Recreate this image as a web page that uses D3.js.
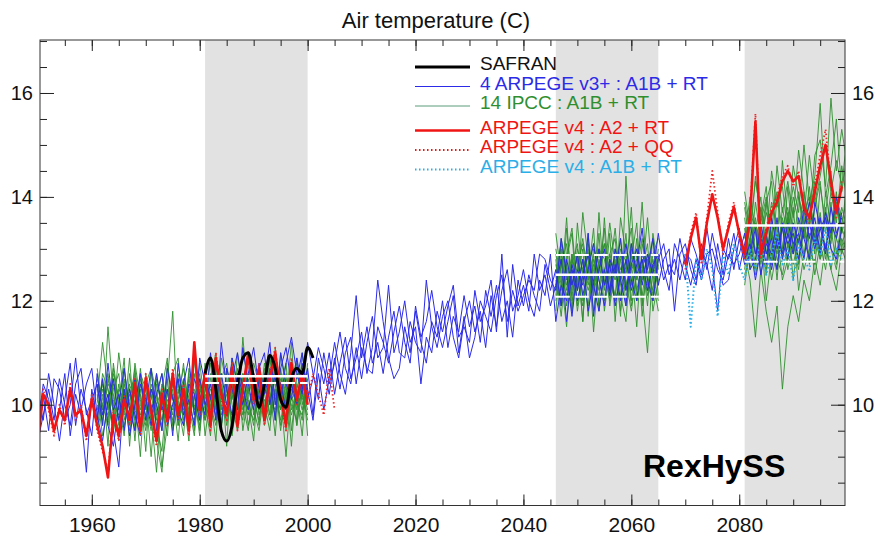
<!DOCTYPE html>
<html>
<head>
<meta charset="utf-8">
<script src="https://cdn.jsdelivr.net/npm/d3@7"></script>
<style>
body { margin: 0; background: #fff; }
svg { display: block; font-family: "Liberation Sans", Arial, sans-serif; }
</style>
</head>
<body>
<svg id="chart" width="876" height="536"></svg>
<script>
'use strict';

// ---- data (deg C, annual values) ----
var safranStart = 1981;
var safran = [10.6, 10.9, 10.3, 9.5, 9.3, 9.6, 10.4, 10.9, 11.0, 10.5,
  9.95, 10.4, 10.95, 10.7, 10.1, 9.95, 10.5, 10.7, 10.6, 11.1, 10.9];

var arpegeStart = 1950;
var arpegeV3 = [
  [9.6, 10.4, 10.1, 9.5, 9.9, 10.6, 9.4, 10.2, 9.8, 8.7,
   10.3, 9.7, 10.5, 9.6, 9.2, 10.0, 10.7, 9.9, 9.5, 10.4,
   10.1, 9.6, 10.6, 9.9, 10.3, 9.4, 10.8, 10.0, 9.7, 10.5,
   10.2, 9.8, 11.0, 10.1, 9.6, 10.7, 10.3, 9.9, 11.1, 10.4,
   9.9, 10.8, 10.2, 10.6, 9.7, 11.0, 10.4, 10.1, 10.9, 10.3,
   10.7, 9.8, 10.9, 10.4, 11.0, 10.2, 10.8, 11.3, 10.5, 10.9,
   11.4, 10.6, 11.1, 12.4, 11.6, 10.9, 10.5, 10.7, 11.5, 11.0,
   11.8, 11.2, 10.8, 11.6, 11.3, 12.0, 11.1, 11.7, 11.4, 12.1,
   11.5, 11.9, 11.2, 12.2, 11.7, 12.3, 11.6, 12.0, 11.3, 12.4,
   11.9, 12.5, 12.1, 11.8, 12.7, 12.2, 12.6, 11.9, 12.8, 12.3,
   12.9, 12.1, 12.6, 13.1, 12.4, 11.9, 12.8, 12.5, 13.2, 12.2,
   12.7, 13.0, 12.3, 12.9, 12.5, 13.3, 12.6, 12.2, 13.1, 12.8,
   12.4, 13.2, 12.9, 12.5, 13.4, 12.7, 11.8, 13.0, 12.8, 13.3,
   12.6, 13.1, 13.5, 12.9, 13.3, 12.7, 13.6, 13.0, 13.4, 12.8,
   13.5, 13.1, 13.8, 13.2, 13.6, 12.9, 13.7, 13.3, 14.0, 13.4],
  [10.2, 9.7, 10.6, 10.0, 9.3, 10.1, 10.8, 9.6, 10.3, 9.9,
   9.4, 10.6, 9.8, 10.2, 9.5, 8.8, 10.3, 9.7, 10.5, 9.6,
   10.0, 10.7, 9.5, 10.2, 9.8, 10.6, 9.7, 10.4, 10.9, 9.8,
   10.5, 10.0, 10.4, 9.7, 11.2, 10.3, 9.8, 10.6, 10.2, 11.0,
   10.6, 10.1, 10.5, 11.2, 10.0, 10.7, 11.1, 10.4, 10.0, 10.8,
   10.3, 9.7, 10.6, 9.9, 10.5, 11.2, 10.6, 10.2, 11.0, 12.1,
   10.9, 11.5, 10.8, 11.2, 10.6, 11.3, 11.8, 11.0, 10.9, 11.6,
   11.2, 11.0, 12.4, 11.5, 11.1, 11.7, 12.0, 11.3, 10.9, 11.6,
   12.0, 11.4, 11.8, 11.1, 12.1, 11.5, 12.2, 12.6, 11.8, 12.1,
   12.6, 12.0, 11.7, 12.4, 12.1, 12.9, 11.6, 12.3, 12.0, 12.7,
   12.2, 12.8, 11.8, 12.4, 13.0, 12.3, 12.7, 11.9, 12.5, 13.1,
   12.4, 12.0, 12.9, 12.6, 13.2, 12.3, 12.8, 13.0, 11.8, 12.9,
   13.1, 12.6, 12.3, 13.0, 12.7, 12.2, 13.1, 12.5, 13.2, 12.6,
   13.2, 12.7, 12.9, 13.4, 12.5, 13.1, 12.9, 13.6, 12.8, 13.3,
   12.9, 13.6, 13.2, 12.8, 13.9, 13.4, 13.0, 13.5, 13.2, 13.7],
  [9.9, 10.2, 9.5, 10.5, 10.3, 9.7, 10.0, 10.9, 9.9, 10.4,
   10.7, 9.8, 9.3, 10.1, 10.5, 9.7, 10.2, 9.4, 10.0, 10.6,
   9.7, 10.3, 10.0, 9.5, 10.7, 10.1, 9.9, 9.6, 10.4, 10.2,
   9.7, 10.6, 10.1, 10.8, 10.2, 9.9, 10.9, 10.4, 10.0, 10.6,
   11.1, 10.3, 9.8, 10.7, 10.5, 10.1, 10.8, 11.3, 10.6, 10.2,
   11.2, 10.6, 10.1, 11.0, 10.4, 10.8, 11.4, 10.7, 10.4, 11.1,
   10.5, 11.2, 11.7, 10.9, 11.1, 12.3, 11.0, 11.4, 12.0, 11.2,
   11.5, 10.4, 11.3, 11.0, 11.8, 11.4, 11.9, 12.3, 11.3, 11.5,
   11.2, 12.2, 11.6, 11.9, 12.4, 11.4, 12.9, 11.3, 12.7, 11.9,
   12.3, 11.8, 12.9, 12.2, 12.5, 11.9, 12.3, 12.8, 11.6, 12.6,
   12.0, 12.5, 12.9, 12.3, 11.8, 12.6, 12.2, 13.0, 12.4, 11.9,
   13.1, 12.5, 12.8, 12.2, 12.7, 12.9, 12.4, 12.7, 12.5, 13.2,
   12.7, 12.3, 12.8, 12.4, 12.9, 13.0, 12.6, 12.4, 12.9, 12.7,
   12.9, 13.3, 12.6, 12.8, 13.5, 12.9, 13.2, 12.6, 13.5, 13.1,
   13.3, 12.8, 13.4, 13.9, 13.1, 13.6, 12.9, 13.8, 13.3, 13.6],
  [9.3, 9.8, 10.3, 9.7, 10.5, 10.0, 9.6, 10.4, 10.7, 9.8,
   10.1, 10.4, 9.6, 10.8, 9.9, 10.2, 9.5, 10.3, 9.8, 9.4,
   10.5, 9.9, 10.2, 10.6, 9.6, 10.0, 10.5, 9.8, 10.1, 9.6,
   10.9, 10.4, 9.8, 10.3, 10.6, 10.0, 10.5, 11.0, 10.3, 9.9,
   10.4, 10.7, 11.0, 10.0, 10.6, 10.4, 9.9, 10.7, 10.5, 11.0,
   10.1, 10.5, 11.1, 10.7, 10.2, 10.9, 10.3, 11.0, 11.3, 10.4,
   11.1, 10.7, 10.6, 11.5, 11.2, 10.8, 11.4, 11.9, 11.2, 10.8,
   11.9, 11.3, 11.6, 12.2, 11.5, 11.1, 11.6, 12.1, 11.0, 11.7,
   10.9, 11.3, 12.0, 11.7, 11.4, 12.1, 12.5, 11.6, 12.2, 11.8,
   12.1, 12.4, 12.2, 12.9, 12.8, 12.4, 12.2, 13.2, 12.5, 11.7,
   12.6, 12.3, 13.3, 11.7, 12.6, 13.0, 12.1, 12.7, 12.0, 12.8,
   12.2, 12.7, 13.4, 12.4, 12.0, 12.8, 13.1, 12.5, 12.8, 12.4,
   12.9, 12.8, 12.4, 13.1, 12.6, 13.3, 12.8, 12.3, 12.4, 13.0,
   13.4, 12.8, 13.1, 12.4, 13.0, 13.3, 12.6, 13.2, 12.9, 13.5,
   13.1, 13.3, 12.8, 13.5, 13.0, 13.4, 13.6, 13.0, 12.8, 13.4]
];

// 14 IPCC models, three windows
var ipccStarts = [1961, 2046, 2081];
var ipccPast = [
  [10.4, 9.6, 11.5, 10.1, 9.3, 10.7, 9.9, 10.2, 9.0, 10.6, 9.8, 8.7, 10.3, 10.9, 9.5, 10.0, 10.8, 9.7, 10.2, 9.4, 10.6, 10.1, 9.3, 10.9, 10.4, 9.6, 11.0, 10.2, 9.8, 10.5, 9.9, 10.8, 10.3, 9.4, 10.7, 10.0, 11.2, 9.6, 10.4, 10.1],
  [9.8, 10.5, 9.2, 10.8, 10.0, 9.4, 10.6, 9.9, 10.3, 9.1, 10.7, 10.2, 9.5, 10.4, 11.8, 9.6, 10.1, 9.3, 10.9, 10.2, 9.7, 10.5, 11.0, 9.6, 10.3, 10.8, 9.5, 10.6, 10.0, 9.3, 10.7, 10.2, 9.8, 11.1, 9.9, 10.4, 9.2, 10.6, 10.3, 9.9],
  [10.1, 11.2, 10.3, 9.5, 10.0, 10.9, 9.2, 10.5, 9.7, 10.2, 9.0, 10.4, 10.1, 9.4, 10.6, 10.9, 9.8, 10.3, 9.5, 10.8, 10.0, 9.4, 10.7, 10.2, 9.9, 10.4, 9.7, 11.3, 10.1, 9.6, 10.5, 9.8, 10.9, 10.4, 9.5, 10.3, 10.0, 9.7, 11.0, 10.2],
  [9.5, 10.0, 10.6, 9.8, 11.0, 10.2, 9.7, 10.8, 10.1, 9.5, 10.3, 9.9, 8.8, 9.6, 10.5, 10.0, 9.4, 10.7, 10.2, 9.9, 10.4, 9.6, 10.1, 10.6, 9.2, 10.9, 10.3, 9.8, 10.5, 10.1, 9.7, 10.4, 10.9, 10.0, 10.3, 9.5, 10.6, 10.1, 9.7, 10.8],
  [10.7, 9.9, 10.2, 9.6, 10.4, 9.8, 10.9, 9.5, 10.6, 10.3, 9.7, 10.1, 10.6, 9.9, 10.2, 9.3, 10.5, 9.8, 10.1, 10.6, 9.4, 10.2, 9.8, 10.5, 10.8, 10.0, 9.5, 10.4, 10.9, 9.8, 10.3, 9.6, 10.1, 10.6, 10.2, 9.0, 10.4, 10.9, 10.0, 10.5],
  [9.9, 10.3, 9.7, 10.5, 9.6, 10.0, 10.4, 9.3, 10.7, 9.9, 10.2, 9.6, 9.1, 10.3, 9.8, 10.6, 10.1, 9.5, 10.9, 9.7, 10.3, 10.8, 9.9, 9.6, 10.4, 10.1, 10.7, 9.5, 10.2, 10.8, 10.4, 9.9, 10.5, 9.7, 11.0, 10.3, 9.8, 10.2, 9.4, 10.7],
  [10.2, 9.4, 10.0, 10.7, 9.9, 10.3, 9.6, 10.1, 10.5, 9.7, 10.0, 9.3, 8.7, 10.1, 9.9, 10.4, 9.7, 10.6, 9.9, 10.3, 10.0, 9.7, 10.5, 9.9, 10.6, 9.4, 10.2, 10.5, 9.6, 10.1, 10.6, 10.0, 9.5, 10.8, 10.1, 10.6, 9.9, 10.3, 10.7, 9.4],
  [10.5, 10.1, 9.8, 10.3, 10.6, 9.7, 10.2, 9.9, 9.6, 10.4, 10.7, 9.8, 10.0, 10.5, 9.6, 10.2, 10.7, 10.0, 9.4, 10.5, 10.1, 10.6, 9.7, 10.3, 9.8, 10.5, 10.0, 9.7, 10.9, 10.3, 9.6, 10.7, 10.1, 9.9, 10.4, 10.8, 9.5, 10.4, 10.1, 10.3],
  [9.7, 10.6, 10.3, 9.9, 9.5, 10.4, 10.0, 10.7, 9.8, 10.0, 9.5, 10.5, 9.9, 9.7, 10.3, 9.6, 10.2, 10.0, 10.6, 9.5, 10.8, 9.9, 10.4, 10.0, 9.7, 10.3, 10.6, 10.0, 9.5, 10.4, 10.0, 10.5, 9.8, 10.3, 9.7, 10.2, 10.7, 9.9, 10.5, 10.6],
  [10.0, 9.8, 10.4, 10.2, 9.7, 10.5, 9.5, 10.0, 10.2, 9.6, 10.4, 10.0, 9.6, 10.8, 10.1, 9.8, 10.3, 9.9, 9.7, 10.4, 9.9, 10.3, 10.1, 9.5, 10.7, 10.2, 9.8, 10.6, 10.3, 9.9, 9.5, 10.3, 10.6, 10.2, 9.9, 10.5, 10.2, 9.6, 10.4, 10.0],
  [10.3, 10.0, 9.6, 10.4, 10.2, 9.9, 10.3, 10.5, 9.6, 10.1, 9.9, 10.2, 9.7, 10.2, 10.5, 9.7, 10.0, 10.4, 9.8, 10.1, 10.5, 9.8, 10.2, 10.4, 9.6, 10.2, 10.4, 9.9, 10.3, 10.6, 9.8, 10.3, 10.0, 10.5, 9.6, 10.1, 10.5, 10.0, 9.8, 10.4],
  [9.6, 10.2, 10.0, 9.5, 10.3, 10.1, 9.8, 10.6, 10.0, 9.8, 10.3, 9.7, 10.4, 9.9, 10.0, 10.5, 9.6, 10.2, 10.3, 9.8, 10.2, 10.0, 9.6, 10.2, 10.0, 10.6, 9.7, 10.3, 10.0, 9.7, 10.3, 10.6, 10.2, 9.8, 10.3, 9.9, 10.4, 10.8, 10.2, 9.7],
  [10.1, 9.7, 10.5, 10.0, 9.8, 10.2, 10.3, 9.7, 10.4, 9.9, 10.1, 10.6, 9.9, 10.0, 9.7, 10.3, 9.9, 10.5, 10.0, 9.6, 10.3, 10.4, 9.9, 10.1, 10.3, 9.7, 10.5, 10.1, 9.9, 10.4, 10.2, 9.7, 10.4, 10.1, 10.6, 9.7, 10.1, 10.3, 9.9, 10.5],
  [9.9, 10.4, 9.9, 10.6, 10.1, 9.6, 10.1, 10.3, 9.9, 10.5, 9.6, 10.0, 10.3, 9.8, 10.4, 10.1, 10.5, 9.7, 10.2, 10.4, 9.7, 10.1, 10.6, 9.8, 10.2, 10.3, 9.9, 10.0, 10.6, 10.2, 9.9, 10.1, 9.7, 10.2, 10.5, 9.9, 10.3, 10.0, 10.2, 9.8]
];
var ipccMid = [
  [12.8, 11.9, 13.4, 12.3, 12.9, 11.6, 13.1, 12.5, 12.0, 13.6, 12.2, 12.8, 11.7, 14.4, 12.6, 13.0, 12.1, 11.0, 12.7, 12.3],
  [12.1, 13.2, 12.6, 11.8, 13.5, 12.4, 11.9, 13.0, 12.7, 12.2, 13.3, 11.6, 12.9, 12.5, 13.8, 12.0, 12.6, 13.1, 11.8, 12.4],
  [13.0, 12.4, 11.5, 12.9, 12.2, 13.7, 12.8, 12.1, 13.3, 11.8, 12.6, 13.4, 12.3, 12.0, 12.8, 13.5, 11.9, 12.7, 13.2, 12.1],
  [12.5, 11.7, 12.8, 13.3, 11.9, 12.6, 13.0, 11.4, 12.7, 13.1, 12.4, 12.0, 13.6, 12.9, 11.9, 12.5, 13.9, 12.3, 12.0, 12.8],
  [11.8, 12.9, 12.2, 12.7, 13.1, 12.0, 12.5, 13.4, 11.8, 12.6, 12.9, 13.2, 12.1, 11.6, 13.0, 12.4, 12.8, 11.9, 13.3, 12.6],
  [12.9, 12.3, 13.6, 12.0, 12.4, 13.0, 11.7, 12.8, 12.5, 13.4, 11.9, 12.6, 13.0, 12.3, 12.7, 11.5, 13.1, 12.6, 12.2, 13.0],
  [12.3, 13.0, 11.9, 12.5, 12.8, 11.6, 13.3, 12.1, 13.7, 12.3, 12.8, 12.0, 12.4, 13.3, 12.0, 12.9, 12.5, 13.6, 12.4, 11.8],
  [12.6, 12.0, 12.9, 13.4, 12.2, 12.8, 12.3, 12.9, 11.9, 12.5, 13.5, 12.7, 11.8, 12.6, 13.1, 12.2, 12.7, 12.1, 12.9, 13.2],
  [12.0, 12.7, 13.1, 11.8, 12.6, 13.2, 12.5, 11.8, 12.8, 12.4, 12.1, 13.0, 12.6, 12.9, 12.3, 13.2, 11.7, 12.8, 12.5, 12.0],
  [13.3, 12.5, 12.1, 12.8, 12.4, 11.9, 12.7, 13.1, 12.4, 12.0, 12.9, 12.5, 13.2, 11.9, 12.6, 12.8, 12.4, 12.9, 12.1, 12.7],
  [12.4, 11.9, 12.7, 12.2, 13.0, 12.6, 12.2, 12.6, 13.0, 12.8, 12.2, 12.9, 12.4, 12.8, 13.4, 12.0, 12.6, 12.3, 12.8, 12.4],
  [12.2, 12.8, 12.3, 12.9, 11.8, 12.5, 12.9, 12.3, 12.6, 13.1, 12.5, 12.1, 12.8, 12.4, 11.8, 12.6, 13.2, 12.5, 12.0, 12.9],
  [12.7, 12.2, 12.6, 12.1, 12.7, 13.1, 12.4, 12.7, 12.2, 12.6, 12.0, 12.7, 12.5, 12.2, 12.9, 12.5, 12.1, 12.8, 12.6, 12.3],
  [12.5, 13.1, 12.4, 12.6, 12.3, 12.8, 12.6, 12.2, 13.0, 12.3, 12.7, 12.4, 12.9, 12.6, 12.3, 12.7, 12.5, 12.2, 12.7, 12.5]
];
var ipccEnd = [
  [13.8, 13.1, 14.4, 13.5, 14.0, 13.2, 14.6, 13.7, 14.3, 13.6, 14.9, 14.1, 13.5, 14.8, 15.1, 14.2, 15.9, 14.5, 15.3, 14.6],
  [13.2, 14.0, 13.4, 12.8, 13.9, 14.3, 13.1, 14.7, 13.5, 14.2, 13.7, 15.0, 13.9, 14.4, 15.8, 14.0, 14.6, 15.5, 14.1, 14.8],
  [12.9, 12.4, 11.3, 12.6, 11.8, 11.2, 11.9, 10.3, 11.5, 12.1, 11.6, 12.4, 12.0, 12.8, 12.3, 13.1, 12.6, 12.2, 13.0, 12.7],
  [13.6, 12.8, 13.9, 13.2, 12.5, 13.6, 14.1, 13.0, 13.7, 12.9, 14.0, 13.4, 12.8, 13.8, 14.3, 13.3, 14.1, 13.5, 14.6, 13.9],
  [12.6, 13.5, 12.9, 13.8, 13.3, 12.7, 13.5, 12.9, 14.2, 13.1, 12.6, 13.7, 14.0, 13.2, 12.8, 14.1, 13.4, 13.9, 13.3, 14.4],
  [13.9, 13.3, 12.7, 13.6, 14.2, 13.0, 12.6, 13.8, 13.2, 14.0, 13.5, 12.9, 13.6, 14.3, 13.1, 13.7, 14.5, 13.2, 13.8, 13.4],
  [12.8, 13.7, 13.4, 12.5, 13.2, 13.9, 13.4, 12.8, 13.6, 12.4, 13.3, 14.1, 13.0, 12.7, 13.6, 13.0, 13.9, 12.9, 13.5, 14.0],
  [13.4, 12.6, 13.3, 14.0, 12.9, 13.5, 12.4, 13.6, 13.0, 13.8, 12.7, 13.4, 14.2, 13.1, 13.7, 12.8, 13.3, 14.1, 13.0, 13.6],
  [12.3, 13.1, 12.6, 13.4, 12.0, 12.9, 13.3, 12.4, 12.8, 13.5, 12.2, 12.9, 13.3, 12.5, 13.1, 12.6, 13.4, 12.7, 13.2, 12.9],
  [14.1, 13.4, 14.3, 13.7, 13.1, 14.5, 13.8, 14.2, 13.3, 14.6, 14.0, 13.6, 14.8, 13.9, 14.4, 15.0, 14.1, 14.7, 14.2, 15.2],
  [13.0, 13.8, 12.9, 13.3, 13.9, 12.7, 14.0, 13.4, 12.8, 13.6, 14.1, 13.2, 13.7, 12.9, 14.2, 13.5, 13.1, 14.0, 13.6, 13.3],
  [12.5, 12.9, 13.6, 12.7, 13.2, 12.4, 13.0, 13.5, 12.6, 13.1, 12.8, 13.6, 12.7, 13.3, 12.9, 13.8, 13.0, 12.6, 13.4, 13.1],
  [13.3, 12.9, 13.5, 13.1, 13.7, 13.3, 12.9, 13.4, 13.8, 13.0, 13.5, 13.2, 13.9, 13.4, 13.0, 13.6, 13.2, 13.8, 13.3, 13.7],
  [12.7, 13.2, 12.5, 13.0, 12.6, 13.3, 12.8, 12.5, 13.1, 12.7, 13.2, 12.6, 13.0, 13.4, 12.8, 13.1, 12.6, 13.2, 12.9, 13.3]
];

// ARPEGE v4 runs
var v4PastStart = 1950, v4EndStart = 2070;
var a2rtPast = [9.3, 10.2, 10.0, 9.5, 9.9, 9.7, 10.3, 9.8, 9.9, 9.4,
  10.1, 9.6, 9.2, 8.6, 9.8, 9.4, 10.1, 9.7, 10.4, 9.5,
  10.5, 9.9, 9.3, 10.2, 9.7, 10.6, 9.8, 10.3, 9.5, 11.2,
  9.9, 10.6, 9.6, 10.9, 10.2, 9.8, 10.7, 9.6, 10.3, 11.0,
  10.1, 10.7, 9.7, 10.5, 11.0, 10.2, 9.6, 10.8, 10.1, 10.6, 10.0];
var a2rtEnd = [12.7, 13.2, 13.6, 12.8, 13.5, 14.05, 13.6, 13.0, 13.4, 13.8,
  13.3, 12.9, 13.6, 15.45, 12.9, 13.3, 13.7, 13.9, 14.3, 14.5,
  14.3, 14.4, 13.8, 13.6, 14.1, 14.6, 15.0, 14.3, 13.7, 14.2];
var a2qqPast = [9.2, 10.3, 9.9, 9.4, 10.0, 9.6, 10.4, 9.7, 10.0, 9.3,
  10.2, 9.5, 9.1, 8.7, 9.9, 9.3, 10.2, 9.6, 10.5, 9.4,
  10.6, 9.8, 9.2, 10.3, 9.6, 10.7, 9.7, 10.4, 9.4, 11.1,
  9.8, 10.7, 9.5, 11.0, 10.1, 9.7, 10.8, 9.5, 10.4, 10.9,
  10.0, 10.8, 9.6, 10.6, 11.1, 10.1, 9.5, 10.9, 10.0, 10.7,
  10.1, 10.6, 10.2, 9.8, 10.7, 9.9];
var a2qqEnd = [12.6, 13.3, 13.7, 12.7, 13.6, 14.5, 13.7, 12.9, 13.5, 13.9,
  13.2, 12.8, 13.7, 15.6, 12.8, 13.4, 13.8, 14.0, 14.4, 14.6,
  14.2, 14.5, 13.7, 13.5, 14.2, 14.8, 15.3, 14.2, 13.6, 14.3];
var a1bEnd = [12.9, 11.5, 12.8, 12.4, 13.0, 12.6, 11.7, 12.9, 12.5, 13.1,
  12.7, 12.4, 13.0, 12.6, 13.2, 12.5, 12.9, 13.3, 12.7, 13.0,
  12.4, 13.1, 12.8, 12.6, 13.2, 12.9, 13.4, 12.7, 13.0, 12.8];

// 20-year windows and their means
var periodStarts = [1981, 2046, 2081];
var periodEnds = [2000, 2065, 2100];
var periodMeans = [10.55, 12.5, 13.45];
var periodSpread = [[10.42], [12.88, 12.08], [12.75]];

var legendLabels = ['SAFRAN', '4 ARPEGE v3+ : A1B + RT', '14 IPCC : A1B + RT',
  'ARPEGE v4 : A2 + RT', 'ARPEGE v4 : A2 + QQ', 'ARPEGE v4 : A1B + RT'];

var xMajor = [1960, 1980, 2000, 2020, 2040, 2060, 2080];
var yMajor = [10, 12, 14, 16];

// ---- drawing ----
var svg = d3.select('#chart');
var pLeft = 40, pRight = 845, pTop = 40, pBottom = 505.5;

var x = d3.scaleLinear().domain([1950.4, 2099.6]).range([pLeft, pRight]);
var y = d3.scaleLinear().domain([8.06, 17.02]).range([pBottom, pTop]);

var col = {black: '#000', blue: '#2b2be8', green: '#2f8f2f', red: '#f01414',
  qq: '#f02828', cyan: '#2aaee8'};

svg.append('defs').append('clipPath').attr('id', 'plot')
  .append('rect').attr('x', pLeft).attr('y', pTop)
  .attr('width', pRight - pLeft).attr('height', pBottom - pTop);

// grey windows
svg.append('g').selectAll('rect').data(periodStarts).join('rect')
  .attr('x', function (d) { return x(d); })
  .attr('y', pTop)
  .attr('width', function (d, i) { return Math.min(x(periodEnds[i]), pRight) - x(d); })
  .attr('height', pBottom - pTop)
  .attr('fill', '#e2e2e2');

function pts(start, vals) {
  return vals.map(function (v, i) { return [start + i, v]; });
}
var line = d3.line().x(function (d) { return x(d[0]); }).y(function (d) { return y(d[1]); });
var smooth = d3.line().curve(d3.curveMonotoneX)
  .x(function (d) { return x(d[0]); }).y(function (d) { return y(d[1]); });

var plot = svg.append('g').attr('clip-path', 'url(#plot)');

function draw(data, color, width, dash, gen) {
  plot.append('path').datum(data)
    .attr('d', gen || line)
    .attr('fill', 'none')
    .attr('stroke', color)
    .attr('stroke-width', width)
    .attr('stroke-dasharray', dash || null)
    .attr('stroke-linejoin', 'round');
}

[ipccPast, ipccMid, ipccEnd].forEach(function (set, k) {
  set.forEach(function (vals) { draw(pts(ipccStarts[k], vals), col.green, 0.9); });
});
arpegeV3.forEach(function (vals) { draw(pts(arpegeStart, vals), col.blue, 1); });

draw(pts(v4EndStart, a1bEnd), col.cyan, 2, '1.5,2.5');
draw(pts(v4PastStart, a2qqPast), col.qq, 1.8, '1.5,2.5');
draw(pts(v4EndStart, a2qqEnd), col.qq, 1.8, '1.5,2.5');
draw(pts(v4PastStart, a2rtPast), col.red, 2.6);
draw(pts(v4EndStart, a2rtEnd), col.red, 2.6);
draw(pts(safranStart, safran), col.black, 3, null, smooth);

// window means
periodStarts.forEach(function (s, i) {
  var e = periodEnds[i];
  periodSpread[i].forEach(function (v) {
    plot.append('line').attr('x1', x(s)).attr('x2', x(e))
      .attr('y1', y(v)).attr('y2', y(v))
      .attr('stroke', '#fff').attr('stroke-width', 2).attr('stroke-dasharray', '14,5');
  });
  plot.append('line').attr('x1', x(s)).attr('x2', x(e))
    .attr('y1', y(periodMeans[i])).attr('y2', y(periodMeans[i]))
    .attr('stroke', '#fff').attr('stroke-width', 2.5);
});

// axes (ticks pointing inward)
function styleAxis(size) {
  return function (g) {
    g.select('.domain').remove();
    g.selectAll('line').attr('stroke', '#222');
    g.selectAll('text').attr('fill', '#111').style('font-size', size + 'px')
      .style('font-family', '"Liberation Sans", Arial, sans-serif');
  };
}
var xMinor = d3.range(1955, 2100, 5);
var yMinor = d3.range(8.5, 17.01, 0.5);

svg.append('g').attr('transform', 'translate(0,' + pBottom + ')')
  .call(d3.axisBottom(x).tickValues(xMinor).tickSize(-6).tickFormat('')).call(styleAxis(21));
svg.append('g').attr('transform', 'translate(0,' + pBottom + ')')
  .call(d3.axisBottom(x).tickValues(xMajor).tickSize(-11).tickPadding(12).tickFormat(d3.format('d')))
  .call(styleAxis(21));
svg.append('g').attr('transform', 'translate(0,' + pTop + ')')
  .call(d3.axisTop(x).tickValues(xMinor).tickSize(-6).tickFormat('')).call(styleAxis(21));
svg.append('g').attr('transform', 'translate(0,' + pTop + ')')
  .call(d3.axisTop(x).tickValues(xMajor).tickSize(-11).tickFormat('')).call(styleAxis(21));

svg.append('g').attr('transform', 'translate(' + pLeft + ',0)')
  .call(d3.axisLeft(y).tickValues(yMinor).tickSize(-7).tickFormat('')).call(styleAxis(20));
svg.append('g').attr('transform', 'translate(' + pLeft + ',0)')
  .call(d3.axisLeft(y).tickValues(yMajor).tickSize(-14).tickPadding(7).tickFormat(d3.format('d')))
  .call(styleAxis(20));
svg.append('g').attr('transform', 'translate(' + pRight + ',0)')
  .call(d3.axisRight(y).tickValues(yMinor).tickSize(-7).tickFormat('')).call(styleAxis(20));
svg.append('g').attr('transform', 'translate(' + pRight + ',0)')
  .call(d3.axisRight(y).tickValues(yMajor).tickSize(-14).tickPadding(7).tickFormat(d3.format('d')))
  .call(styleAxis(20));

svg.append('rect').attr('x', pLeft).attr('y', pTop)
  .attr('width', pRight - pLeft).attr('height', pBottom - pTop)
  .attr('fill', 'none').attr('stroke', '#333').attr('stroke-width', 1);

// title
svg.append('text').attr('x', 436).attr('y', 28).attr('text-anchor', 'middle')
  .style('font-size', '22px').attr('fill', '#111').text('Air temperature (C)');

// legend
var legColor = [col.black, col.blue, col.green, col.red, col.red, col.cyan];
var legWidth = [3, 1, 1, 2.6, 1.8, 2];
var legDash = [null, null, null, null, '1.5,2.5', '1.5,2.5'];
var leg = svg.append('g');
legendLabels.forEach(function (t, i) {
  var by = 70 + i * 19.5 + (i >= 3 ? 5 : 0);
  leg.append('line').attr('x1', 415).attr('x2', 470)
    .attr('y1', by - 3).attr('y2', by - 3)
    .attr('stroke', i === 2 ? '#5a9a7a' : legColor[i]).attr('stroke-width', legWidth[i])
    .attr('stroke-dasharray', legDash[i]);
  leg.append('text').attr('x', 480).attr('y', by)
    .style('font-size', '19px').attr('fill', i === 0 ? '#111' : legColor[i]).text(t);
});

svg.append('text').attr('x', 643).attr('y', 477)
  .style('font-size', '32px').style('font-weight', 'bold').attr('fill', '#000').text('RexHySS');
</script>
</body>
</html>
